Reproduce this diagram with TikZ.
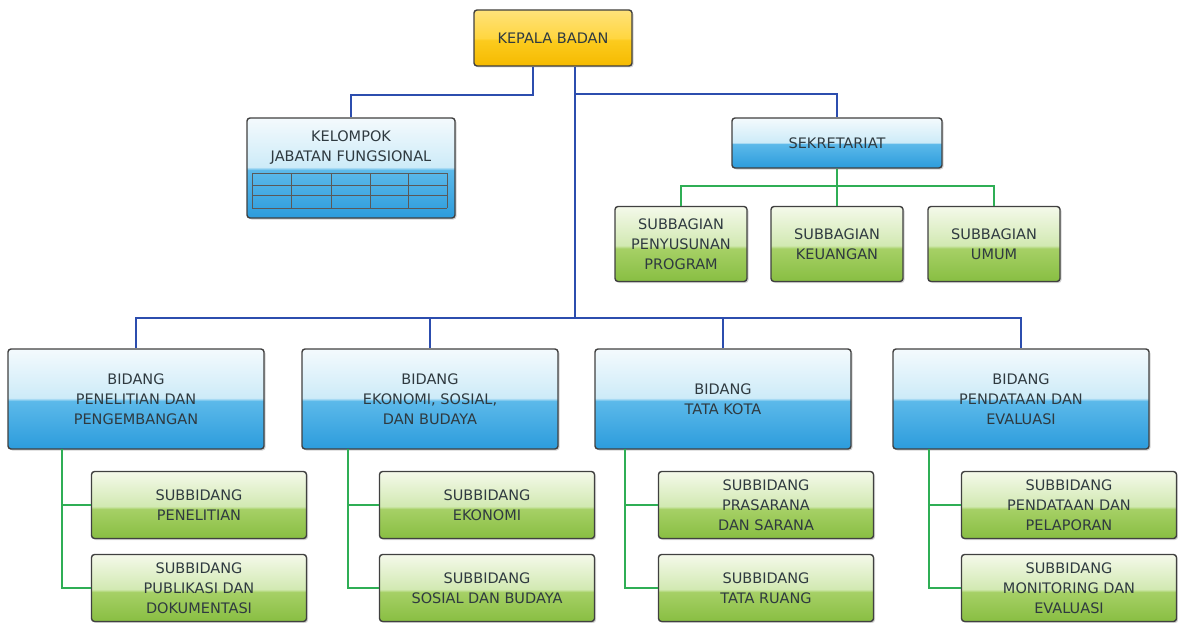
\documentclass[tikz,border=0pt]{standalone}
\usepackage{fontspec}
\setmainfont{DejaVu Sans}
\usetikzlibrary{shadows}

\definecolor{linkblue}{HTML}{2C4DAE}
\definecolor{linkgreen}{HTML}{2FAE55}
\definecolor{txtgray}{HTML}{2F3A40}
\definecolor{bA}{HTML}{2C9CDC}
\definecolor{bB}{HTML}{5CB9EA}
\definecolor{bC}{HTML}{CDEBF8}
\definecolor{bD}{HTML}{F4FAFD}
\definecolor{gA}{HTML}{88BE42}
\definecolor{gB}{HTML}{A6D066}
\definecolor{gC}{HTML}{D2E9B2}
\definecolor{gD}{HTML}{F4F9EA}
\definecolor{yA}{HTML}{F5BA00}
\definecolor{yB}{HTML}{FCCB1E}
\definecolor{yC}{HTML}{FFD640}
\definecolor{yD}{HTML}{FFE27A}

\pgfdeclareverticalshading{glossblue}{100bp}{color(0bp)=(bA); color(25bp)=(bA); color(49bp)=(bB); color(50.5bp)=(bC); color(75bp)=(bD); color(100bp)=(bD)}
\pgfdeclareverticalshading{glossgreen}{100bp}{color(0bp)=(gA); color(25bp)=(gA); color(47bp)=(gB); color(49bp)=(gC); color(75bp)=(gD); color(100bp)=(gD)}
\pgfdeclareverticalshading{glossyellow}{100bp}{color(0bp)=(yA); color(25bp)=(yA); color(48bp)=(yB); color(50bp)=(yC); color(75bp)=(yD); color(100bp)=(yD)}

\tikzset{
  box/.style={draw=black!75, line width=1.4pt, rounded corners=3pt, align=center,
    text=txtgray, font=\fontsize{14.5}{20}\selectfont,
    drop shadow={shadow xshift=1.5pt, shadow yshift=-1.5pt, opacity=0.35}},
  headbox/.style={box, shading=glossyellow, minimum width=158pt, minimum height=56pt},
  groupbox/.style={box, shading=glossblue, minimum width=208pt, minimum height=100pt},
  secbox/.style={box, shading=glossblue, minimum width=210pt, minimum height=50pt},
  unitbox/.style={box, shading=glossblue, minimum width=256pt, minimum height=100pt},
  bagbox/.style={box, shading=glossgreen, minimum width=132pt, minimum height=75pt},
  subbox/.style={box, shading=glossgreen, minimum width=215pt, minimum height=67pt},
  bline/.style={draw=linkblue, line width=1.5pt},
  gline/.style={draw=linkgreen, line width=1.6pt},
  gridline/.style={draw=black!65, line width=1pt},
}

\begin{document}
\begin{tikzpicture}[x=1pt,y=-1pt]
  \useasboundingbox (0,0) rectangle (1178,623);
  \path
    (553,38) node[headbox] (kepala){KEPALA BADAN}
    (351,168) node[groupbox] (kjf){}
    (837,143) node[secbox] (sekr){SEKRETARIAT}
    (681,244) node[bagbox] (sbpp){SUBBAGIAN\\PENYUSUNAN\\PROGRAM}
    (837,244) node[bagbox] (sbku){SUBBAGIAN\\KEUANGAN}
    (994,244) node[bagbox] (sbum){SUBBAGIAN\\UMUM}
    (136,399) node[unitbox] (bid1){BIDANG\\PENELITIAN DAN\\PENGEMBANGAN}
    (430,399) node[unitbox] (bid2){BIDANG\\EKONOMI, SOSIAL,\\DAN BUDAYA}
    (723,399) node[unitbox] (bid3){BIDANG\\TATA KOTA}
    (1021,399) node[unitbox] (bid4){BIDANG\\PENDATAAN DAN\\EVALUASI}
    (199,505) node[subbox] (sub1a){SUBBIDANG\\PENELITIAN}
    (199,588) node[subbox] (sub1b){SUBBIDANG\\PUBLIKASI DAN\\DOKUMENTASI}
    (487,505) node[subbox] (sub2a){SUBBIDANG\\EKONOMI}
    (487,588) node[subbox] (sub2b){SUBBIDANG\\SOSIAL DAN BUDAYA}
    (766,505) node[subbox] (sub3a){SUBBIDANG\\PRASARANA\\DAN SARANA}
    (766,588) node[subbox] (sub3b){SUBBIDANG\\TATA RUANG}
    (1069,505) node[subbox] (sub4a){SUBBIDANG\\PENDATAAN DAN\\PELAPORAN}
    (1069,588) node[subbox] (sub4b){SUBBIDANG\\MONITORING DAN\\EVALUASI};
  \node[align=center, text=txtgray, font=\fontsize{14.5}{20}\selectfont]
    (kjftext) at (351,148) {KELOMPOK\\JABATAN FUNGSIONAL};
  % table inside the group box
  \foreach \x in {252,291,331,370,408,447}
    \draw[gridline] (\x,173) -- (\x,208);
  \foreach \y in {173,185,195,208}
    \draw[gridline] (252,\y) -- (447,\y);
  \coordinate (kb) at (533,95);
  \coordinate (sb) at (575,94);
  \coordinate (bb) at (575,318);
  \coordinate (gb) at (837,186);
  \coordinate (v1) at (62,449);
  \coordinate (v2) at (348,449);
  \coordinate (v3) at (625,449);
  \coordinate (v4) at (929,449);
  \begin{scope}[bline]
    \draw (kepala.south -| kb) -- (kb) -| (kjf.north);
    \draw (sb) -| (sekr.north);
    \draw (kepala.south -| bb) -- (bb);
    \draw (bid1.north) |- (bb) -| (bid4.north);
    \draw (bid2.north) -- (bid2.north |- bb);
    \draw (bid3.north) -- (bid3.north |- bb);
  \end{scope}
  \begin{scope}[gline]
    \draw (sekr.south) -- (sbku.north);
    \draw (sbpp.north) |- (gb) -| (sbum.north);
    \draw (v1) |- (sub1b.west);
    \draw (v1 |- sub1a.west) -- (sub1a.west);
    \draw (v2) |- (sub2b.west);
    \draw (v2 |- sub2a.west) -- (sub2a.west);
    \draw (v3) |- (sub3b.west);
    \draw (v3 |- sub3a.west) -- (sub3a.west);
    \draw (v4) |- (sub4b.west);
    \draw (v4 |- sub4a.west) -- (sub4a.west);
  \end{scope}
\end{tikzpicture}
\end{document}
